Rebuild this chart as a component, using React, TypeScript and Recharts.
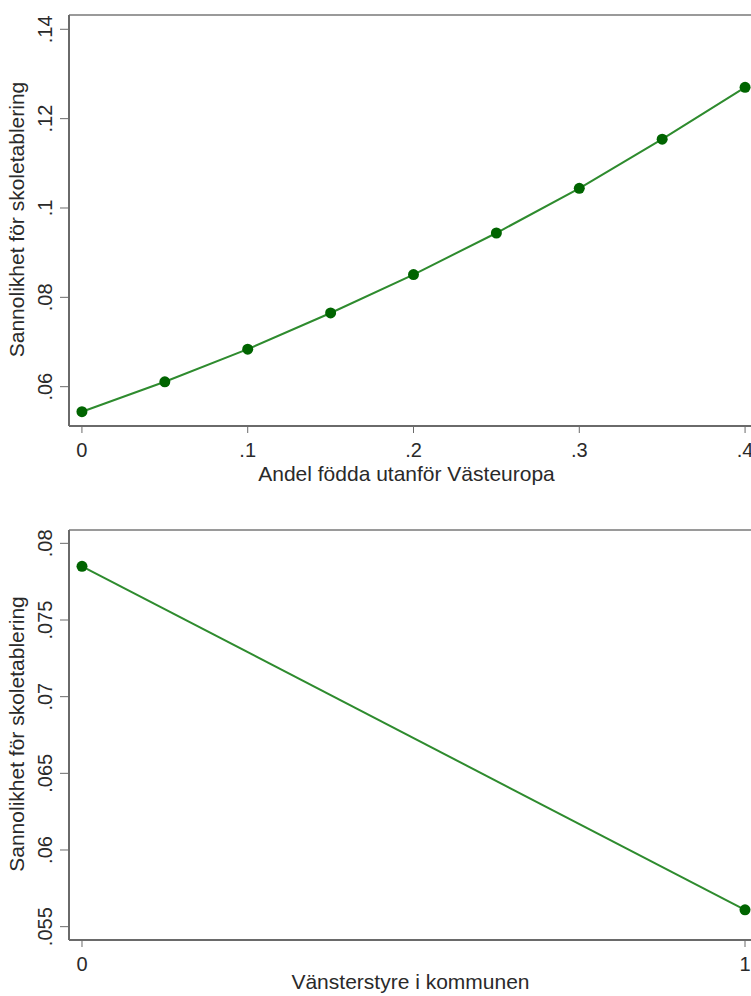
import React from 'react';
import { LineChart, Line, XAxis, YAxis, ReferenceLine } from 'recharts';

// Chart 1: Andel födda utanför Västeuropa
const shareX = [0, 0.05, 0.1, 0.15, 0.2, 0.25, 0.3, 0.35, 0.4];
const shareProb = [0.0544, 0.0611, 0.0684, 0.0765, 0.0851, 0.0944, 0.1044, 0.1154, 0.127];
const shareTicks = [0, 0.1, 0.2, 0.3, 0.4];
const probTicksTop = [0.06, 0.08, 0.1, 0.12, 0.14];

// Chart 2: Vänsterstyre i kommunen
const leftX = [0, 1];
const leftProb = [0.0785, 0.0561];
const leftTicks = [0, 1];
const probTicksBottom = [0.055, 0.06, 0.065, 0.07, 0.075, 0.08];

const yTitle = 'Sannolikhet för skoletablering';
const xTitleTop = 'Andel födda utanför Västeuropa';
const xTitleBottom = 'Vänsterstyre i kommunen';

const topData = shareX.map((x, i) => ({ x, y: shareProb[i] }));
const bottomData = leftX.map((x, i) => ({ x, y: leftProb[i] }));

const FONT = '"Liberation Sans", Arial, sans-serif';
const TEXT = '#2a2a2a';
const AXIS = '#6a6a6a';
const FRAME = '#9a9a9a';
const LINE = '#2e8b2e';
const DOT = '#006400';

const fmt = (v: number) => (v === 0 ? '0' : String(v).replace(/^0\./, '.'));

const YTick = (props: any) => {
  const { x, y, payload } = props;
  const bx = x - 6;
  return (
    <text
      x={bx}
      y={y}
      transform={`rotate(-90, ${bx}, ${y})`}
      textAnchor="middle"
      fontSize={20}
      fontFamily={FONT}
      fill={TEXT}
    >
      {fmt(payload.value)}
    </text>
  );
};

const YTitle = (props: any) => {
  const vb = props.viewBox || { x: 0, y: 0, width: 0, height: 0 };
  const bx = vb.x + 24;
  const cy = vb.y + vb.height / 2 - 1;
  return (
    <text
      x={bx}
      y={cy}
      transform={`rotate(-90, ${bx}, ${cy})`}
      textAnchor="middle"
      fontSize={21}
      fontFamily={FONT}
      fill={TEXT}
    >
      {yTitle}
    </text>
  );
};

const makeXTitle = (text: string, dy: number, dx: number) => (props: any) => {
  const vb = props.viewBox || { x: 0, y: 0, width: 0, height: 0 };
  return (
    <text
      x={vb.x + vb.width / 2 + dx}
      y={vb.y + dy}
      textAnchor="middle"
      fontSize={21}
      fontFamily={FONT}
      fill={TEXT}
    >
      {text}
    </text>
  );
};

const TopXTitle = makeXTitle(xTitleTop, 55, -7);
const BottomXTitle = makeXTitle(xTitleBottom, 49, -3);

const topYDomain: [number, number] = [0.0512, 0.1432];
const bottomYDomain: [number, number] = [0.05413, 0.08087];

export default function App() {
  return (
    <div
      style={{
        position: 'absolute',
        left: 0,
        top: 0,
        width: 751,
        height: 996,
        overflow: 'hidden',
        background: '#fff',
      }}
    >
      <div style={{ position: 'absolute', left: 0, top: 0 }}>
        <LineChart width={770} height={500} data={topData} margin={{ top: 15, right: 12, bottom: 0, left: 0 }}>
          <ReferenceLine y={topYDomain[1]} stroke={FRAME} strokeWidth={2} />
          <XAxis
            type="number"
            dataKey="x"
            domain={[-0.0078, 0.4078]}
            ticks={shareTicks}
            allowDataOverflow
            tickFormatter={fmt}
            height={74}
            tickSize={7}
            tickMargin={10}
            stroke={AXIS}
            strokeWidth={2}
            tickLine={{ stroke: AXIS, strokeWidth: 1 }}
            tick={{ fontSize: 20, fill: TEXT, fontFamily: FONT }}
            label={<TopXTitle />}
          />
          <YAxis
            type="number"
            dataKey="y"
            domain={topYDomain}
            ticks={probTicksTop}
            allowDataOverflow
            width={69}
            tickSize={9}
            tickMargin={2}
            stroke={AXIS}
            strokeWidth={2}
            tickLine={{ stroke: AXIS, strokeWidth: 1 }}
            tick={<YTick />}
            label={<YTitle />}
          />
          <Line
            type="linear"
            dataKey="y"
            stroke={LINE}
            strokeWidth={2}
            dot={{ r: 5.5, fill: DOT, stroke: DOT, strokeWidth: 0 }}
            isAnimationActive={false}
          />
        </LineChart>
      </div>
      <div style={{ position: 'absolute', left: 0, top: 500 }}>
        <LineChart width={770} height={496} data={bottomData} margin={{ top: 30, right: 12, bottom: 0, left: 0 }}>
          <ReferenceLine y={bottomYDomain[1]} stroke={FRAME} strokeWidth={2} />
          <XAxis
            type="number"
            dataKey="x"
            domain={[-0.0196, 1.0196]}
            ticks={leftTicks}
            allowDataOverflow
            tickFormatter={fmt}
            height={56}
            tickSize={7}
            tickMargin={10}
            stroke={AXIS}
            strokeWidth={2}
            tickLine={{ stroke: AXIS, strokeWidth: 1 }}
            tick={{ fontSize: 20, fill: TEXT, fontFamily: FONT }}
            label={<BottomXTitle />}
          />
          <YAxis
            type="number"
            dataKey="y"
            domain={bottomYDomain}
            ticks={probTicksBottom}
            allowDataOverflow
            width={69}
            tickSize={9}
            tickMargin={2}
            stroke={AXIS}
            strokeWidth={2}
            tickLine={{ stroke: AXIS, strokeWidth: 1 }}
            tick={<YTick />}
            label={<YTitle />}
          />
          <Line
            type="linear"
            dataKey="y"
            stroke={LINE}
            strokeWidth={2}
            dot={{ r: 5.5, fill: DOT, stroke: DOT, strokeWidth: 0 }}
            isAnimationActive={false}
          />
        </LineChart>
      </div>
    </div>
  );
}
